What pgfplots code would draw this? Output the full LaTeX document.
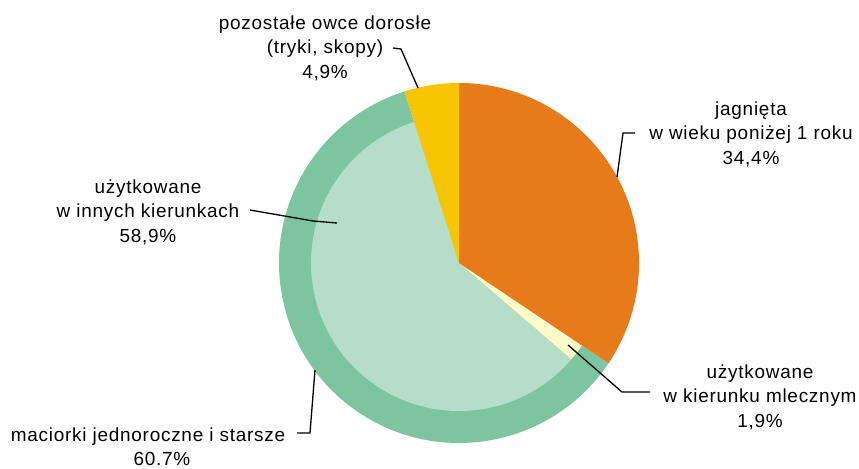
\documentclass[border=0pt]{standalone}
\usepackage{fontspec}
\setmainfont{Liberation Sans}[LetterSpace=4]
\usepackage{pgfplots}
\pgfplotsset{compat=1.18}

\definecolor{cOrange}{RGB}{231,122,26}
\definecolor{cYellow}{RGB}{246,196,0}
\definecolor{cRing}{RGB}{124,197,160}
\definecolor{cInner}{RGB}{181,221,200}
\definecolor{cMilk}{RGB}{255,251,200}

% slice: colour, start %, end % (clockwise from 12 o'clock), radius
\newcommand{\slice}[4]{%
  \fill[#1] (axis cs:459,206) -- ++({90-3.6*#2}:#4)
    arc[start angle={90-3.6*#2}, end angle={90-3.6*#3}, radius=#4] -- cycle;}

\begin{document}
\begin{tikzpicture}
\begin{axis}[
  hide axis, scale only axis, clip=false,
  width=859bp, height=469bp,
  xmin=0, xmax=859, ymin=0, ymax=469,
]
\path (axis cs:0,0) rectangle (axis cs:859,469);

% shares: jagnieta 34.4, mleczne 1.9, inne 58.9, pozostale 4.9; maciorki 60.7
\slice{cRing}{34.4}{95.1}{180bp}     % maciorki (outer ring)
\slice{cMilk}{34.4}{36.3}{148bp}     % w kierunku mlecznym
\slice{cInner}{36.3}{95.2}{148bp}    % w innych kierunkach
\slice{cOrange}{0}{34.4}{180bp}      % jagnieta
\slice{cYellow}{95.1}{100}{180bp}    % pozostale

% leader lines
\begin{scope}[line width=1.3bp, black]
\draw (axis cs:393,421) -- (axis cs:401,420) -- (axis cs:418,381);
\draw (axis cs:635,336) -- (axis cs:623,336) -- (axis cs:617,292);
\draw (axis cs:568,124) -- (axis cs:622,77) -- (axis cs:650,77);
\draw (axis cs:250,259) -- (axis cs:313,248) -- (axis cs:337,246);
\draw (axis cs:297,36) -- (axis cs:310,36) -- (axis cs:315,99);
\end{scope}

% labels
\tikzset{lbl/.style={align=center, inner sep=0pt, font=\fontsize{19}{24.5}\selectfont}}
\node[lbl] at (axis cs:325,421) {pozostałe owce dorosłe\\(tryki, skopy)\\4,9\%};
\node[lbl] at (axis cs:751,335) {jagnięta\\w wieku poniżej 1 roku\\34,4\%};
\node[lbl] at (axis cs:760,72) {użytkowane\\w kierunku mlecznym\\1,9\%};
\node[lbl] at (axis cs:148,257) {użytkowane\\w innych kierunkach\\58,9\%};
\node[lbl] at (axis cs:148,32) {maciorki jednoroczne i starsze};
\node[lbl] at (axis cs:162,10) {60.7\%};
\end{axis}
\end{tikzpicture}
\end{document}
